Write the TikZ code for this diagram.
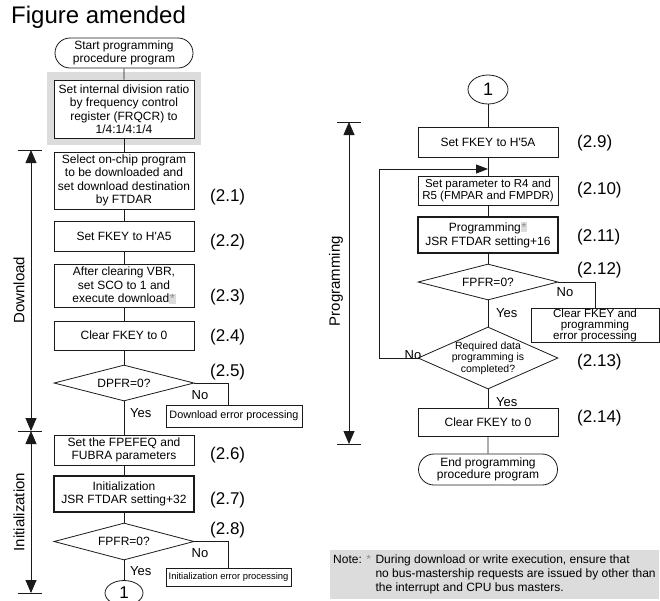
\documentclass[tikz,border=0pt]{standalone}
\usepackage{fontspec}
\setmainfont{Liberation Sans}
\usepackage{tikz}
\usetikzlibrary{arrows.meta,positioning,calc,shapes.geometric,shapes.misc}
\definecolor{ink}{HTML}{1A1A1A}
\definecolor{amendgray}{HTML}{DCDCDC}
\definecolor{stargray}{HTML}{8C8C8C}
\newcommand{\amendstar}{{\setlength{\fboxsep}{0.8pt}\colorbox{amendgray}{\textcolor{stargray}{*}}}}
\tikzset{
    every picture/.style={line join=miter},
    procbox/.style={draw=ink,fill=white,line width=0.8pt,
      minimum width=140pt,inner sep=1pt,align=center,
      font=\fontsize{12}{13.5}\selectfont},
    callbox/.style={procbox,line width=1.8pt},
    termbox/.style={rounded rectangle,draw=ink,fill=white,line width=0.8pt,
      minimum width=140pt,minimum height=30pt,inner sep=1pt,align=center,
      font=\fontsize{12}{12.7}\selectfont},
    decision/.style={diamond,draw=ink,fill=white,line width=0.8pt,
      minimum width=140pt,minimum height=36pt,inner sep=0pt,aspect=3.9,
      align=center,font=\fontsize{12}{13.5}\selectfont},
    errbox/.style={draw=ink,fill=white,line width=0.8pt,inner sep=0.5pt,align=center},
    connector/.style={ellipse,draw=ink,fill=white,line width=0.8pt,
      minimum width=40pt,minimum height=29pt,inner sep=0pt,
      font=\fontsize{18}{18}\selectfont},
    steplabel/.style={anchor=west,inner sep=0pt,font=\fontsize{17}{17}\selectfont},
    branchlabel/.style={inner sep=0pt,font=\fontsize{13}{13}\selectfont},
    phaselabel/.style={rotate=90,inner sep=0pt,font=\fontsize{15}{15}\selectfont},
    flowline/.style={draw=ink,line width=0.8pt},
    phasearrow/.style={flowline,
      {Triangle[length=13pt,width=11pt]}-{Triangle[length=13pt,width=11pt]}},
    flowarrow/.style={flowline,-{Triangle[length=12pt,width=9pt]}}
}

\begin{document}
\begin{tikzpicture}[x=1pt,y=-1pt,font=\fontsize{12}{14}\selectfont]
  \useasboundingbox (0,0) rectangle (660,600);

  \node[anchor=base west,inner sep=0pt,font=\fontsize{24}{24}\selectfont] (title) at (11,23) {Figure amended};

  % left column
  \node[termbox] (start) at (124,53) {Start programming\\procedure program};
  \node[fill=amendgray,minimum width=154pt,minimum height=73pt,inner sep=0pt] (amendbg) at (124,108.5) {};
  \node[procbox,minimum height=58pt] (ratio) at (124,109) {Set internal division ratio\\by frequency control\\register (FRQCR) to\\1/4:1/4:1/4};
  \node[procbox,minimum height=57pt] (select) at (124,180.5) {Select on-chip program\\to be downloaded and\\set download destination\\by FTDAR};
  \node[procbox,minimum height=30pt] (fkeyA) at (124,236) {Set FKEY to H\textquotesingle A5};
  \node[procbox,minimum height=43pt] (dlexec) at (124,285.5) {After clearing VBR,\\set SCO to 1 and\\execute download\amendstar};
  \node[procbox,minimum height=29pt] (clearA) at (124,335.5) {Clear FKEY to 0};
  \node[decision] (dpfr) at (124,383) {DPFR=0?};
  \node[errbox,minimum width=136pt,minimum height=22pt,font=\fontsize{10.8}{12}\selectfont] (dlerr) at (234,416) {Download error processing};
  \node[procbox,minimum height=30pt] (fpefeq) at (124,450) {Set the FPEFEQ and\\FUBRA parameters};
  \node[callbox,minimum height=36pt] (initcall) at (124,494) {Initialization\\JSR FTDAR setting+32};
  \node[decision,minimum height=37pt] (fpfrA) at (124,541.5) {FPFR=0?};
  \node[errbox,minimum width=125pt,minimum height=18pt,font=\fontsize{9.4}{11}\selectfont] (initerr) at (228.5,577) {Initialization error processing};
  \node[connector,minimum width=38pt,minimum height=25pt,font=\fontsize{17}{17}\selectfont] (connA) at (124,593) {1};

  \node[steplabel] (s21) at (210,197) {(2.1)};
  \node[steplabel] (s22) at (210,242) {(2.2)};
  \node[steplabel] (s23) at (210,297) {(2.3)};
  \node[steplabel] (s24) at (210,337) {(2.4)};
  \node[steplabel] (s25) at (210,372) {(2.5)};
  \node[steplabel] (s26) at (210,455) {(2.6)};
  \node[steplabel] (s27) at (210,500) {(2.7)};
  \node[steplabel] (s28) at (210,530) {(2.8)};

  \node[branchlabel] (noA) at (200,395) {No};
  \node[branchlabel,anchor=west] (yesA) at (130,413) {Yes};
  \node[branchlabel] (noB) at (200,553) {No};
  \node[branchlabel,anchor=west] (yesB) at (130,571) {Yes};

  \draw[flowline] (start) -- (ratio);
  \draw[flowline] (ratio) -- (select);
  \draw[flowline] (select) -- (fkeyA);
  \draw[flowline] (fkeyA) -- (dlexec);
  \draw[flowline] (dlexec) -- (clearA);
  \draw[flowline] (clearA) -- (dpfr);
  \draw[flowline] (dpfr) -- (fpefeq);
  \draw[flowline] (fpefeq) -- (initcall);
  \draw[flowline] (initcall) -- (fpfrA);
  \draw[flowline] (fpfrA) -- (connA);
  \draw[flowline] (dpfr.east) -| ([xshift=-6pt]dlerr.north);
  \draw[flowline] (fpfrA.east) -| (initerr.north);

  \coordinate (dlTop) at (31,150);
  \coordinate (dlEnd) at (31,431);
  \coordinate (inEnd) at (31,593);
  \draw[flowline] ([xshift=-13pt]dlTop) -- ([xshift=11pt]dlTop);
  \draw[flowline] ([xshift=-13pt]dlEnd) -- ([xshift=11pt]dlEnd);
  \draw[flowline] ([xshift=-13pt]inEnd) -- ([xshift=11pt]inEnd);
  \draw[phasearrow] (dlTop) -- (dlEnd);
  \draw[phasearrow] (dlEnd) -- (inEnd);
  \node[phaselabel] (dlname) at (19,290) {Download};
  \node[phaselabel] (inname) at (19,512) {Initialization};

  % right column
  \node[connector] (connB) at (488,89.5) {1};
  \node[procbox,minimum height=30pt] (fkeyB) at (488,142) {Set FKEY to H\textquotesingle 5A};
  \node[procbox,minimum height=29pt,font=\fontsize{11.5}{12.5}\selectfont] (param) at (488,190.5) {Set parameter to R4 and\\R5 (FMPAR and FMPDR)};
  \node[callbox,minimum height=36pt] (progcall) at (488,235) {Programming\amendstar\\JSR FTDAR setting+16};
  \node[decision] (fpfrB) at (488,282) {FPFR=0?};
  \node[errbox,minimum width=128pt,minimum height=33pt,font=\fontsize{11.6}{11.2}\selectfont] (pgerr) at (595,325.5) {Clear FKEY and\\programming\\error processing};
  \node[decision,minimum height=62pt,aspect=2.26,inner sep=-4pt,font=\fontsize{10.5}{11.7}\selectfont] (reqd) at (488,358) {Required data\\programming is\\completed?};
  \node[procbox,minimum height=28pt] (clearB) at (488,422) {Clear FKEY to 0};
  \node[termbox,minimum width=141pt,minimum height=31pt] (finish) at (488,469.5) {End programming\\procedure program};

  \node[steplabel] (s29) at (577,143) {(2.9)};
  \node[steplabel] (s210) at (577,190) {(2.10)};
  \node[steplabel] (s211) at (577,237) {(2.11)};
  \node[steplabel] (s212) at (577,270) {(2.12)};
  \node[steplabel] (s213) at (577,362) {(2.13)};
  \node[steplabel] (s214) at (577,418) {(2.14)};

  \node[branchlabel] (noC) at (565,292) {No};
  \node[branchlabel,anchor=west] (yesC) at (496,313) {Yes};
  \node[branchlabel] (noD) at (413,355) {No};
  \node[branchlabel,anchor=west] (yesD) at (496,402) {Yes};

  \coordinate (loopin) at (488,169);
  \draw[flowline] (connB) -- (fkeyB);
  \draw[flowline] (fkeyB) -- (param);
  \draw[flowline] (param) -- (progcall);
  \draw[flowline] (progcall) -- (fpfrB);
  \draw[flowline] (fpfrB) -- (reqd);
  \draw[flowline] (reqd) -- (clearB);
  \draw[flowline] (clearB) -- (finish);
  \draw[flowline] (fpfrB.east) -| (pgerr.north);
  \draw[flowarrow] (reqd.west) -- ++(-38,0) |- (loopin);

  \coordinate (pgTop) at (349,122);
  \coordinate (pgEnd) at (349,444);
  \draw[flowline] ([xshift=-12pt]pgTop) -- ([xshift=12pt]pgTop);
  \draw[flowline] ([xshift=-12pt]pgEnd) -- ([xshift=12pt]pgEnd);
  \draw[phasearrow] (pgTop) -- (pgEnd);
  \node[phaselabel] (pgname) at (336,281) {Programming};

  % note
  \node[fill=amendgray,anchor=north west,minimum width=328pt,minimum height=49pt,
        inner xsep=3pt,inner ysep=0pt,font=\fontsize{12}{14}\selectfont] (note) at (330,550)
    {\begin{tabular}{@{}l@{\hspace{4.5pt}}l@{\hspace{4.5pt}}l@{}}
      Note: & \textcolor{stargray}{*} & During download or write execution, ensure that\\
            &                          & no bus-mastership requests are issued by other than\\
            &                          & the interrupt and CPU bus masters.
     \end{tabular}};
\end{tikzpicture}
\end{document}
